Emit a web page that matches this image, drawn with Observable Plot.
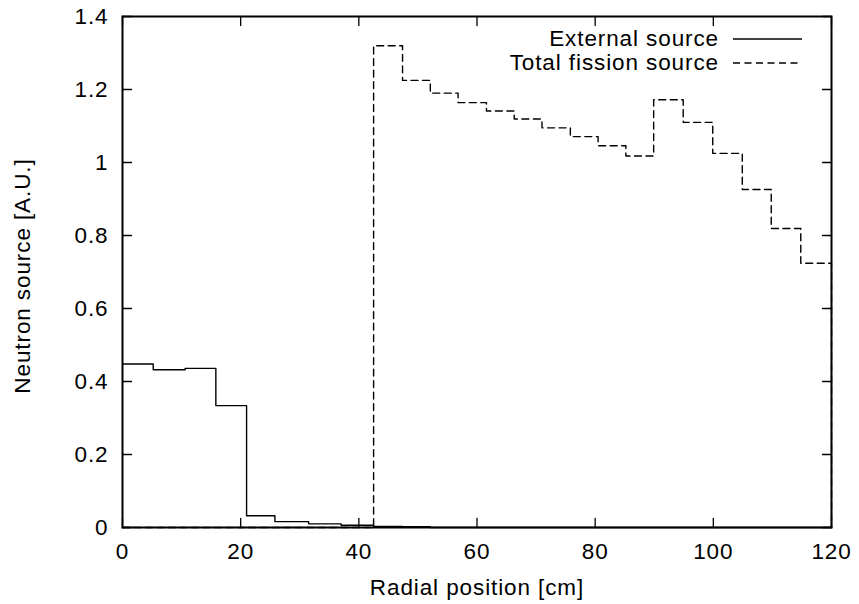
<!DOCTYPE html>
<html>
<head>
<meta charset="utf-8">
<script src="https://cdn.jsdelivr.net/npm/d3@7"></script>
<script src="https://cdn.jsdelivr.net/npm/@observablehq/plot@0.6"></script>
<style>
  html, body { margin: 0; padding: 0; background: #fff; }
  #wrap { position: relative; width: 859px; height: 604px; font-family: "Liberation Sans", Arial, sans-serif; }
  #legend { position: absolute; right: 57px; top: 27px; font-size: 22.5px; letter-spacing: 0.9px; color: #000; }
  #legend .row { display: flex; align-items: center; justify-content: flex-end; height: 24px; }
  #legend svg { margin-left: 14px; display: block; }
</style>
</head>
<body>
<div id="wrap"></div>
<script>
// Bin edges (cm) shared by both histograms
const binEdges = [0, 5.2, 10.6, 15.8, 21.0, 25.8, 31.5, 37.0, 42.5, 47.4, 52.1, 56.8, 61.6, 66.3, 71.0, 75.8, 80.5, 85.2, 89.9, 94.9, 99.9, 104.9, 109.8, 114.8, 120];
// Value per bin
const externalSource = [0.448, 0.432, 0.436, 0.334, 0.032, 0.016, 0.010, 0.006, 0.003, 0.002, 0, 0, 0, 0, 0, 0, 0, 0, 0, 0, 0, 0, 0, 0];
const fissionSource  = [0, 0, 0, 0, 0, 0, 0, 0, 1.32, 1.225, 1.19, 1.164, 1.141, 1.119, 1.095, 1.071, 1.046, 1.018, 1.172, 1.110, 1.025, 0.926, 0.819, 0.724];
const seriesNames = ["External source", "Total fission source"];
const xTicks = [0, 20, 40, 60, 80, 100, 120];
const yTicks = [0, 0.2, 0.4, 0.6, 0.8, 1, 1.2, 1.4];
const xLabel = "Radial position [cm]";
const yLabel = "Neutron source [A.U.]";

const toSteps = vals => binEdges.map((e, i) => ({x: e, y: i < vals.length ? vals[i] : 0}));
const extData = toSteps(externalSource);
const fisData = toSteps(fissionSource);
const fmt = d => String(+d.toFixed(1));

// inward tick shape for vector marks
const tickShape = {draw(context, l) { context.moveTo(0, 0); context.lineTo(0, -l); }};
const tickOpts = {length: 9, anchor: "start", shape: tickShape, stroke: "#000", strokeWidth: 1.3};

const chart = Plot.plot({
  width: 859,
  height: 604,
  marginLeft: 122,
  marginRight: 28,
  marginTop: 16,
  marginBottom: 77,
  style: {fontFamily: "'Liberation Sans', Arial, sans-serif", fontSize: "22.5px", letterSpacing: "0.9px", background: "#fff", color: "#000"},
  x: {domain: [0, 120]},
  y: {domain: [0, 1.4]},
  marks: [
    Plot.axisX(xTicks, {anchor: "bottom", tickSize: 0, tickPadding: 16, label: null, tickFormat: fmt}),
    Plot.axisY(yTicks, {anchor: "left", tickSize: 0, tickPadding: 14, label: null, tickFormat: fmt}),
    Plot.vector(xTicks, {x: d => d, frameAnchor: "bottom", rotate: 0, ...tickOpts}),
    Plot.vector(xTicks, {x: d => d, frameAnchor: "top", rotate: 180, ...tickOpts}),
    Plot.vector(yTicks, {y: d => d, frameAnchor: "left", rotate: 90, ...tickOpts}),
    Plot.vector(yTicks, {y: d => d, frameAnchor: "right", rotate: -90, ...tickOpts}),
    Plot.line(extData, {x: "x", y: "y", curve: "step-after", stroke: "#000", strokeWidth: 1.4}),
    Plot.line(fisData, {x: "x", y: "y", curve: "step-after", stroke: "#000", strokeWidth: 1.4, strokeDasharray: "7,4.5"}),
    Plot.frame({stroke: "#000", strokeWidth: 2}),
    Plot.text([xLabel], {frameAnchor: "bottom", dy: 67, lineAnchor: "bottom", fill: "#000"}),
    Plot.text([yLabel], {frameAnchor: "left", dx: -100, dy: 4, rotate: -90, textAnchor: "middle", lineAnchor: "middle", fill: "#000"})
  ]
});

const wrap = document.getElementById("wrap");
wrap.appendChild(chart);

// Legend (top-right, inside the plot)
const legend = document.createElement("div");
legend.id = "legend";
seriesNames.forEach((name, i) => {
  const row = document.createElement("div");
  row.className = "row";
  const span = document.createElement("span");
  span.textContent = name;
  row.appendChild(span);
  const ns = "http://www.w3.org/2000/svg";
  const s = document.createElementNS(ns, "svg");
  s.setAttribute("width", 69);
  s.setAttribute("height", 4);
  const ln = document.createElementNS(ns, "line");
  ln.setAttribute("x1", 0); ln.setAttribute("x2", 69);
  ln.setAttribute("y1", 2); ln.setAttribute("y2", 2);
  ln.setAttribute("stroke", "#000");
  ln.setAttribute("stroke-width", 1.4);
  if (i === 1) ln.setAttribute("stroke-dasharray", "7,4.5");
  s.appendChild(ln);
  row.appendChild(s);
  legend.appendChild(row);
});
wrap.appendChild(legend);
</script>
</body>
</html>
